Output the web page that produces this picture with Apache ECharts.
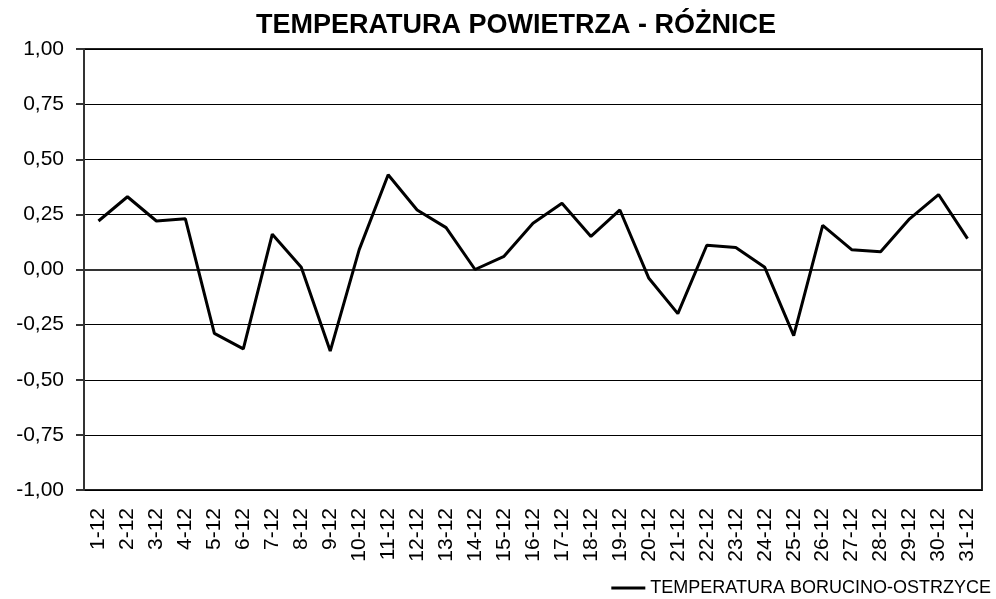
<!DOCTYPE html>
<html>
<head>
<meta charset="utf-8">
<script src="https://cdn.jsdelivr.net/npm/echarts@6/dist/echarts.min.js"></script>
<style>
  html, body { margin: 0; padding: 0; background: #fff; }
  #chart { width: 996px; height: 599px; }
</style>
</head>
<body>
<div id="chart"></div>
<script>
const days = ['1-12', '2-12', '3-12', '4-12', '5-12', '6-12', '7-12', '8-12', '9-12', '10-12',
  '11-12', '12-12', '13-12', '14-12', '15-12', '16-12', '17-12', '18-12', '19-12', '20-12',
  '21-12', '22-12', '23-12', '24-12', '25-12', '26-12', '27-12', '28-12', '29-12', '30-12', '31-12']
const roznice = [0.22, 0.33, 0.22, 0.23, -0.29, -0.36, 0.16, 0.01, -0.37, 0.09,
  0.43, 0.27, 0.19, 0.0, 0.06, 0.21, 0.30, 0.15, 0.27, -0.04,
  -0.2, 0.11, 0.1, 0.01, -0.3, 0.2, 0.09, 0.08, 0.23, 0.34, 0.14]
const seriesName = 'TEMPERATURA BORUCINO-OSTRZYCE'

const font = 'Liberation Sans'
const chart = echarts.init(document.getElementById('chart'))
const option = {
  animation: false,
  backgroundColor: '#fff',
  title: {
    text: 'TEMPERATURA POWIETRZA - RÓŻNICE',
    left: 251,
    top: 7,
    textStyle: { fontFamily: font, fontSize: 27, fontWeight: 'bold', color: '#000' }
  },
  legend: {
    right: 0,
    bottom: -3,
    icon: 'rect',
    itemWidth: 34,
    itemHeight: 3,
    itemGap: 4,
    textStyle: { fontFamily: font, fontSize: 18, color: '#000' },
    data: [seriesName]
  },
  grid: {
    left: 84,
    right: 14,
    top: 49,
    bottom: 109,
    show: true,
    borderColor: '#222',
    borderWidth: 2
  },
  xAxis: {
    type: 'category',
    data: days,
    boundaryGap: true,
    axisLine: { lineStyle: { color: '#333', width: 2 } },
    axisTick: { interval: 0, length: 6, lineStyle: { color: '#333', width: 2 } },
    axisLabel: {
      interval: 0,
      rotate: 90,
      margin: 18,
      fontFamily: font,
      fontSize: 21,
      color: '#000'
    },
    splitLine: { show: false }
  },
  yAxis: {
    type: 'value',
    min: -1,
    max: 1,
    interval: 0.25,
    axisLine: { show: true, lineStyle: { color: '#333', width: 2 } },
    axisTick: { show: true, length: 8, lineStyle: { color: '#333', width: 2 } },
    axisLabel: {
      margin: 20,
      fontFamily: font,
      fontSize: 21,
      color: '#000',
      formatter: v => v.toFixed(2).replace('.', ',')
    },
    splitLine: { lineStyle: { color: '#000', width: 1 } }
  },
  series: [
    {
      name: seriesName,
      type: 'line',
      data: roznice,
      symbol: 'none',
      lineStyle: { color: '#000', width: 3 },
      itemStyle: { color: '#000' }
    }
  ]
}
chart.setOption(option)
</script>
</body>
</html>
